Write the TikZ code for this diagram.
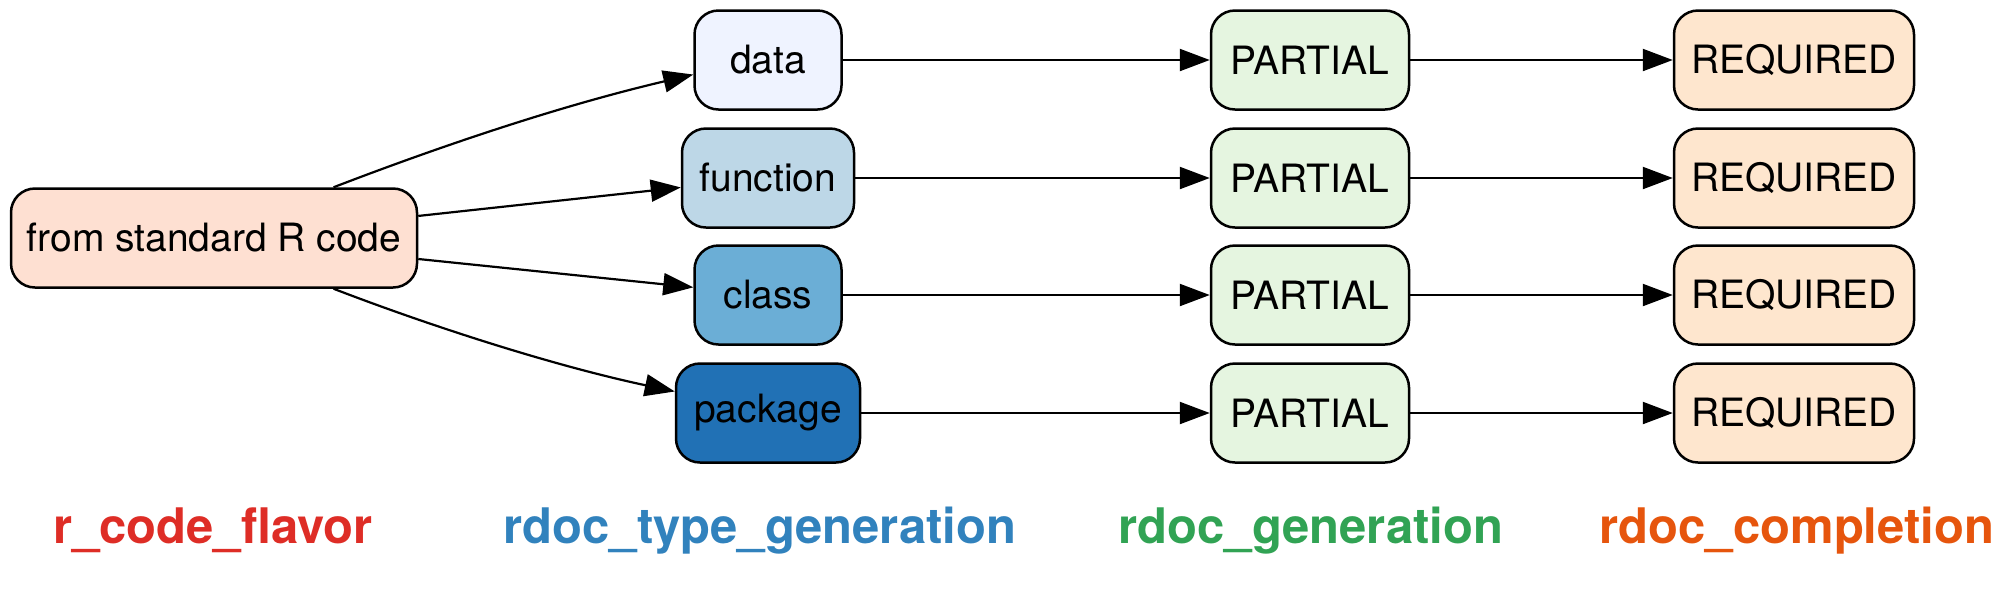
\documentclass[tikz,border=0pt]{standalone}
\usepackage{fontspec}
\setmainfont{TeX Gyre Heros}
\usetikzlibrary{arrows.meta}
\definecolor{rootfill}{HTML}{FEE0D2}
\definecolor{datafill}{HTML}{EFF3FF}
\definecolor{funcfill}{HTML}{BDD7E7}
\definecolor{classfill}{HTML}{6BAED6}
\definecolor{pkgfill}{HTML}{2171B5}
\definecolor{partfill}{HTML}{E5F5E0}
\definecolor{reqfill}{HTML}{FEE6CE}
\definecolor{labred}{HTML}{DE2D26}
\definecolor{labblue}{HTML}{3182BD}
\definecolor{labgreen}{HTML}{31A354}
\definecolor{laborange}{HTML}{E6550D}
\begin{document}
\begin{tikzpicture}[x=0.5pt,y=-0.5pt,
  box/.style={draw=black, line width=1.25pt, rounded corners=12pt, inner sep=0pt,
    minimum height=49.5pt, font=\fontsize{19.5}{22}\selectfont, text=black},
  edge/.style={line width=1.1pt, -{Triangle[length=15pt,width=11pt]}},
  lab/.style={font=\fontsize{24.5}{28}\selectfont\bfseries, anchor=base}]
\useasboundingbox (0,0) rectangle (2000,591);
% column 1
\node[box, fill=rootfill, minimum width=203pt] (root) at (214,238) {from standard R code};
% column 2
\node[box, fill=datafill, minimum width=73.5pt] (data) at (768,60) {data};
\node[box, fill=funcfill, minimum width=86pt] (func) at (768,178) {function};
\node[box, fill=classfill, minimum width=73.5pt] (class) at (768,295) {class};
\node[box, fill=pkgfill, minimum width=92pt] (pkg) at (768,413) {package};
% column 3
\node[box, fill=partfill, minimum width=99pt] (p1) at (1310,60) {PARTIAL};
\node[box, fill=partfill, minimum width=99pt] (p2) at (1310,178) {PARTIAL};
\node[box, fill=partfill, minimum width=99pt] (p3) at (1310,295) {PARTIAL};
\node[box, fill=partfill, minimum width=99pt] (p4) at (1310,413) {PARTIAL};
% column 4
\node[box, fill=reqfill, minimum width=120pt] (r1) at (1794,60) {REQUIRED};
\node[box, fill=reqfill, minimum width=120pt] (r2) at (1794,178) {REQUIRED};
\node[box, fill=reqfill, minimum width=120pt] (r3) at (1794,295) {REQUIRED};
\node[box, fill=reqfill, minimum width=120pt] (r4) at (1794,413) {REQUIRED};
% edges
\draw[edge] (root.23.5) .. controls (433,149) and (555,107) .. (data.191.6);
\draw[edge] (root) -- (func);
\draw[edge] (root) -- (class);
\draw[edge] (root.-23.5) .. controls (433,327) and (555,366) .. (pkg.167.6);
\draw[edge] (data) -- (p1);
\draw[edge] (func) -- (p2);
\draw[edge] (class) -- (p3);
\draw[edge] (pkg) -- (p4);
\draw[edge] (p1) -- (r1);
\draw[edge] (p2) -- (r2);
\draw[edge] (p3) -- (r3);
\draw[edge] (p4) -- (r4);
% column labels
\node[lab, text=labred] (l1) at (213,543) {r\_code\_flavor};
\node[lab, text=labblue] (l2) at (760,543) {rdoc\_type\_generation};
\node[lab, text=labgreen] (l3) at (1311,543) {rdoc\_generation};
\node[lab, text=laborange] (l4) at (1797,543) {rdoc\_completion};
\end{tikzpicture}
\end{document}
